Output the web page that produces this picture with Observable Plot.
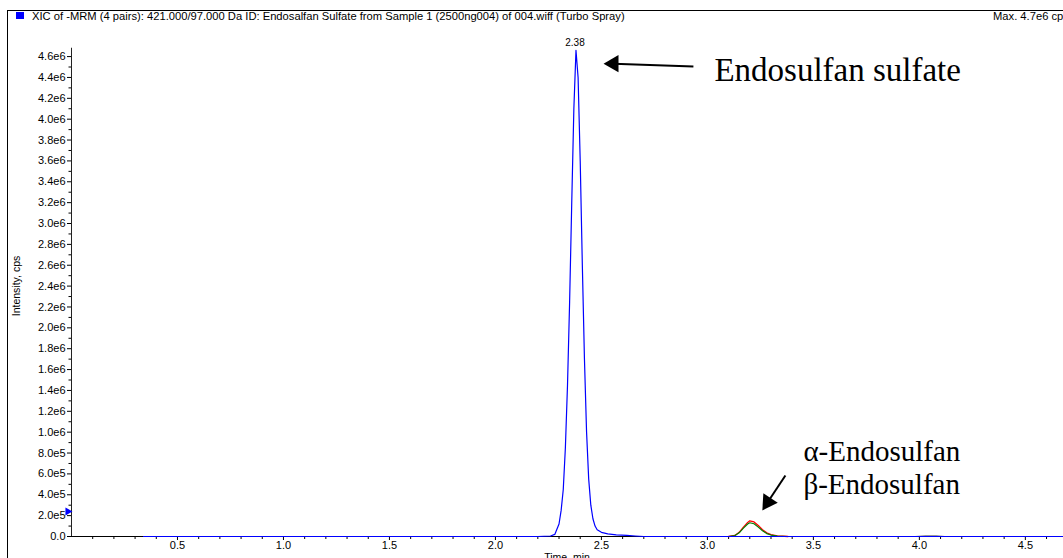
<!DOCTYPE html>
<html><head><meta charset="utf-8">
<script src="https://cdn.jsdelivr.net/npm/d3@7"></script>
<script src="https://cdn.jsdelivr.net/npm/@observablehq/plot@0.6"></script>
<style>
body{margin:0;background:#fff;overflow:hidden;}
#wrap{position:relative;width:1063px;height:558px;overflow:hidden;font-family:"Liberation Sans",Arial,sans-serif;color:#000;}
#chart{position:absolute;left:0;top:0;}
#frame{position:absolute;left:7px;top:10px;width:1100px;height:600px;border-top:1px solid #000;border-left:1px solid #000;}
#sq{position:absolute;left:16px;top:12px;width:8px;height:7px;background:#0000ff;}
.hdr{position:absolute;top:10px;font-size:11.2px;line-height:12px;white-space:nowrap;}
#ylab{position:absolute;left:16px;top:286px;font-size:10.5px;white-space:nowrap;transform:translate(-50%,-50%) rotate(-90deg);}
#xlab{position:absolute;left:567px;top:551px;font-size:10.5px;line-height:12px;white-space:nowrap;transform:translateX(-50%);}
</style></head>
<body>
<div id="wrap">
  <div id="chart"></div>
  <div id="frame"></div>
  <div id="sq"></div>
  <div class="hdr" id="title" style="left:32px">XIC of -MRM (4 pairs): 421.000/97.000 Da ID: Endosalfan Sulfate from Sample 1 (2500ng004) of 004.wiff (Turbo Spray)</div>
  <div class="hdr" id="max" style="left:993px">Max. 4.7e6 cps</div>
  <div id="ylab">Intensity, cps</div>
  <div id="xlab">Time, min</div>
</div>
<script>
// Endosulfan sulfate trace (blue), time in min, intensity in cps
const blueTime = [0.34, 2.20, 2.26, 2.28, 2.30, 2.31, 2.32, 2.33, 2.34, 2.35, 2.36, 2.37, 2.38, 2.39, 2.40, 2.41, 2.42, 2.43, 2.44, 2.45, 2.46, 2.47, 2.48, 2.50, 2.53, 2.57, 2.62, 2.66, 2.70, 4.68];
const blueIntensity = [0, 0, 5e3, 2e4, 1.2e5, 2.5e5, 4.5e5, 8.5e5, 1.45e6, 2.25e6, 3.2e6, 4.1e6, 4.66e6, 4.4e6, 3.6e6, 2.6e6, 1.7e6, 1.0e6, 5.5e5, 3.0e5, 1.7e5, 1.0e5, 6.5e4, 4.0e4, 2.5e4, 1.5e4, 1.0e4, 5e3, 0, 0];
// alpha-Endosulfan (red) and beta-Endosulfan (green)
const redTime = [3.10, 3.13, 3.15, 3.17, 3.19, 3.20, 3.22, 3.24, 3.26, 3.28, 3.30, 3.33, 3.38];
const redIntensity = [0, 1.0e4, 4.0e4, 9.0e4, 1.35e5, 1.5e5, 1.4e5, 1.05e5, 6.5e4, 3.5e4, 1.8e4, 6e3, 0];
const greenTime = [3.10, 3.13, 3.15, 3.17, 3.19, 3.20, 3.22, 3.24, 3.26, 3.28, 3.30, 3.33, 3.38];
const greenIntensity = [0, 9e3, 3.5e4, 8.0e4, 1.2e5, 1.32e5, 1.22e5, 9.0e4, 5.5e4, 2.8e4, 1.4e4, 4e3, 0];
// fourth pair (grey), small bump
const greyTime = [3.98, 4.03, 4.08, 4.12];
const greyIntensity = [0, 8e3, 8e3, 0];

// axis ticks
const xTicks = [0.5, 1.0, 1.5, 2.0, 2.5, 3.0, 3.5, 4.0, 4.5];
const xTickLabels = ["0.5", "1.0", "1.5", "2.0", "2.5", "3.0", "3.5", "4.0", "4.5"];
const xMinorTicks = [0.1,0.2,0.3,0.4,0.6,0.7,0.8,0.9,1.1,1.2,1.3,1.4,1.6,1.7,1.8,1.9,2.1,2.2,2.3,2.4,2.6,2.7,2.8,2.9,3.1,3.2,3.3,3.4,3.6,3.7,3.8,3.9,4.1,4.2,4.3,4.4,4.6];
const yTicks = [0, 2e5, 4e5, 6e5, 8e5, 1.0e6, 1.2e6, 1.4e6, 1.6e6, 1.8e6, 2.0e6, 2.2e6, 2.4e6, 2.6e6, 2.8e6, 3.0e6, 3.2e6, 3.4e6, 3.6e6, 3.8e6, 4.0e6, 4.2e6, 4.4e6, 4.6e6];
const yTickLabels = ["0.0", "2.0e5", "4.0e5", "6.0e5", "8.0e5", "1.0e6", "1.2e6", "1.4e6", "1.6e6", "1.8e6", "2.0e6", "2.2e6", "2.4e6", "2.6e6", "2.8e6", "3.0e6", "3.2e6", "3.4e6", "3.6e6", "3.8e6", "4.0e6", "4.2e6", "4.4e6", "4.6e6"];
const yMinorTicks = [1e5, 3e5, 5e5, 7e5, 9e5, 1.1e6, 1.3e6, 1.5e6, 1.7e6, 1.9e6, 2.1e6, 2.3e6, 2.5e6, 2.7e6, 2.9e6, 3.1e6, 3.3e6, 3.5e6, 3.7e6, 3.9e6, 4.1e6, 4.3e6, 4.5e6];

// annotations
const peakLabel = [{t: 2.38, v: 4.66e6, text: "2.38"}];
const labels = [
  {t: 3.033, v: 4.464e6, text: "Endosulfan sulfate", size: 33},
  {t: 3.453, v: 0.808e6, text: "α-Endosulfan", size: 29},
  {t: 3.453, v: 0.501e6, text: "β-Endosulfan", size: 29}
];

const toRows = (ts, vs) => ts.map((t, i) => ({t, v: vs[i]}));
const blue = toRows(blueTime, blueIntensity);
const red = toRows(redTime, redIntensity);
const green = toRows(greenTime, greenIntensity);
const grey = toRows(greyTime, greyIntensity);

const font = "Liberation Sans, Arial, sans-serif";
const serif = "Liberation Serif, Times New Roman, serif";

const chart = Plot.plot({
  width: 1063,
  height: 558,
  marginLeft: 71,
  marginRight: 0,
  marginTop: 30,
  marginBottom: 22,
  style: {fontFamily: font, color: "#000", background: "transparent", overflow: "visible"},
  x: {domain: [0, 4.68]},
  y: {domain: [0, 4.85e6]},
  marks: [
    Plot.axisX(xTicks, {tickSize: 4, tickPadding: 1, fontSize: 11, tickFormat: d => xTickLabels[xTicks.indexOf(d)], label: null, stroke: "#000"}),
    Plot.axisX(xMinorTicks, {tickSize: 3, tickFormat: () => "", label: null, stroke: "#000"}),
    Plot.axisY(yTicks, {tickSize: 4, tickPadding: 2, fontSize: 11, tickFormat: d => yTickLabels[yTicks.indexOf(d)], label: null, stroke: "#000"}),
    Plot.axisY(yMinorTicks, {tickSize: 2.5, tickFormat: () => "", label: null, stroke: "#000"}),
    Plot.ruleX([0], {y1: 0, y2: 4.68e6, stroke: "#222"}),
    Plot.ruleY([0], {stroke: "#000"}),
    Plot.line(red, {x: "t", y: "v", stroke: "#ff0000", strokeWidth: 1.3}),
    Plot.line(green, {x: "t", y: "v", stroke: "#008000", strokeWidth: 1.2}),
    Plot.line(grey, {x: "t", y: "v", stroke: "#999", strokeWidth: 1.2}),
    Plot.line(blue, {x: "t", y: "v", stroke: "#0000ff", strokeWidth: 1.2}),
    Plot.dot([{t: -0.0175, v: 2.4e5}], {x: "t", y: "v", symbol: "triangle", rotate: 90, r: 3, fill: "#0000ff", stroke: null}),
    Plot.text(peakLabel, {x: "t", y: "v", text: "text", dy: -4, dx: -1, fontSize: 10, lineAnchor: "bottom"}),
    Plot.text(labels, {x: "t", y: "v", text: "text", fontSize: d => d.size, textAnchor: "start", lineAnchor: "middle", fontFamily: serif}),
    // arrow to Endosulfan sulfate peak
    Plot.link([{t1: 2.934, v1: 4.506e6, t2: 2.557, v2: 4.532e6}], {x1: "t1", y1: "v1", x2: "t2", y2: "v2", stroke: "#000", strokeWidth: 2}),
    Plot.dot([{t: 2.557, v: 4.532e6}], {x: "t", y: "v", symbol: "triangle", rotate: -90, r: 6.4, fill: "#000", stroke: null}),
    // arrow to alpha/beta peaks
    Plot.link([{t1: 3.368, v1: 0.585e6, t2: 3.285, v2: 0.33e6}], {x1: "t1", y1: "v1", x2: "t2", y2: "v2", stroke: "#000", strokeWidth: 2}),
    Plot.dot([{t: 3.285, v: 0.33e6}], {x: "t", y: "v", symbol: "triangle", rotate: -146.7, r: 6.4, fill: "#000", stroke: null})
  ]
});
document.getElementById("chart").appendChild(chart);
</script>
</body></html>
